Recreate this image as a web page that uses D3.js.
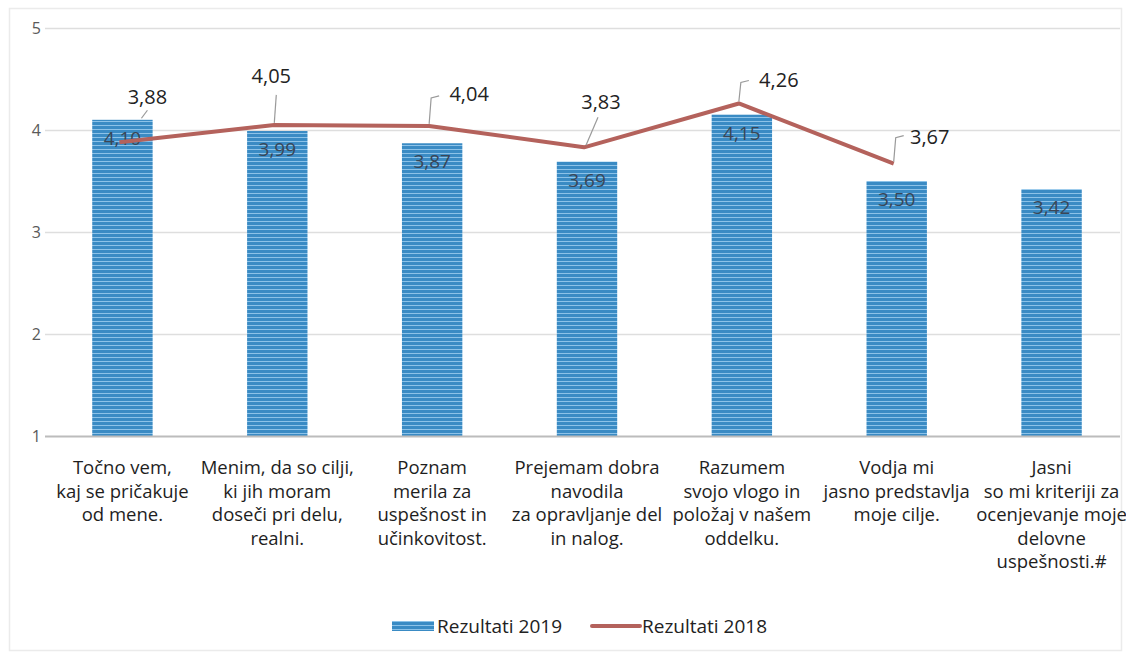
<!DOCTYPE html>
<html><head><meta charset="utf-8">
<script src="https://cdn.jsdelivr.net/npm/d3@7"></script>
<style>
html,body{margin:0;padding:0;background:#fff;}
svg{display:block;font-family:"Open Sans",Lato,sans-serif;}
</style></head>
<body>
<svg id="c" width="1126" height="654"></svg>
<script>
const categories = [
  ["Točno vem,", "kaj se pričakuje", "od mene."],
  ["Menim, da so cilji,", "ki jih moram", "doseči pri delu,", "realni."],
  ["Poznam", "merila za", "uspešnost in", "učinkovitost."],
  ["Prejemam dobra", "navodila", "za opravljanje del", "in nalog."],
  ["Razumem", "svojo vlogo in", "položaj v našem", "oddelku."],
  ["Vodja mi", "jasno predstavlja", "moje cilje."],
  ["Jasni", "so mi kriteriji za", "ocenjevanje moje", "delovne", "uspešnosti.#"]
];
const results2019 = [4.10, 3.99, 3.87, 3.69, 4.15, 3.50, 3.42];
const results2018 = [3.88, 4.05, 4.04, 3.83, 4.26, 3.67, null];
const yTicks = [1, 2, 3, 4, 5];
const seriesNames = ["Rezultati 2019", "Rezultati 2018"];

// label layout for the 2018 line labels (offsets from point)
const lineLabelLayout = [
  {dx: 28, dy: -45, leader: [[22,-24],[28,-32]]},
  {dx: -3, dy: -49, leader: [[0,-2],[2,-30]]},
  {dx: 40, dy: -32, leader: [[0,-2],[2,-28],[10,-30]]},
  {dx: 17, dy: -45, leader: [[2,-2],[14,-30]]},
  {dx: 40, dy: -23, leader: [[0,-2],[2,-21],[10,-23]]},
  {dx: 36, dy: -27, leader: [[0,-2],[2,-26],[10,-28]]}
];

const svg = d3.select("#c");
const fmt = v => d3.format(".2f")(v).replace(".", ",");

// chart border
svg.append("rect").attr("x", 9.5).attr("y", 8.5).attr("width", 1112).attr("height", 642)
  .attr("fill", "none").attr("stroke", "#ebebeb").attr("stroke-width", 1.5);

const x = d3.scaleBand().domain(d3.range(categories.length)).range([45, 1129]).paddingInner(0.61).paddingOuter(0.305);
const y = d3.scaleLinear().domain([1, 5]).range([436, 28]);

const defs = svg.append("defs");
const pat = defs.append("pattern").attr("id", "stripes").attr("patternUnits", "userSpaceOnUse")
  .attr("width", 8).attr("height", 4);
pat.append("rect").attr("width", 8).attr("height", 4).attr("fill", "#3a8bc4");
pat.append("rect").attr("y", 1).attr("width", 8).attr("height", 1).attr("fill", "#8cc2e8");

// gridlines
svg.append("g").selectAll("line").data(yTicks.slice(1)).join("line")
  .attr("x1", 45).attr("x2", 1120).attr("y1", d => y(d) + 0.5).attr("y2", d => y(d) + 0.5)
  .attr("stroke", "#dedede").attr("stroke-width", 1.5);

// y axis labels
svg.append("g").selectAll("text").data(yTicks).join("text")
  .attr("x", 41).attr("y", d => y(d)).attr("dy", "0.35em").attr("text-anchor", "end")
  .attr("font-size", 16).attr("fill", "#5a5a5a").text(d => d);

// bars
svg.append("g").selectAll("rect").data(results2019).join("rect")
  .attr("x", (d, i) => x(i)).attr("width", x.bandwidth())
  .attr("y", d => y(d)).attr("height", d => y(1) - y(d))
  .attr("fill", "url(#stripes)");

// x axis baseline
svg.append("line").attr("x1", 45).attr("x2", 1120).attr("y1", y(1) + 0.5).attr("y2", y(1) + 0.5)
  .attr("stroke", "#bcbcbc").attr("stroke-width", 2);

// bar labels
svg.append("g").selectAll("text").data(results2019).join("text")
  .attr("x", (d, i) => x(i) + x.bandwidth() / 2).attr("y", d => y(d) + 25)
  .attr("text-anchor", "middle").attr("font-size", 19).attr("fill", "#3a4656")
  .text(d => fmt(d));

// line 2018
const cx = i => x(i) + x.bandwidth() / 2;
const linePts = results2018.map((v, i) => ({v, i})).filter(d => d.v != null);
svg.append("path").datum(linePts)
  .attr("d", d3.line().x(d => cx(d.i) - 3).y(d => y(d.v)))
  .attr("fill", "none").attr("stroke", "#b4625c").attr("stroke-width", 4).attr("stroke-linejoin", "round");

// leaders and labels
const lg = svg.append("g");
linePts.forEach((d, k) => {
  const L = lineLabelLayout[k];
  const px = cx(d.i) - 3, py = y(d.v);
  lg.append("path")
    .attr("d", d3.line()(L.leader.map(p => [px + p[0], py + p[1]])))
    .attr("fill", "none").attr("stroke", "#9a9a9a").attr("stroke-width", 1.2);
  lg.append("text").attr("x", px + L.dx).attr("y", py + L.dy).attr("dy", "0.35em")
    .attr("text-anchor", "middle").attr("font-size", 20).attr("fill", "#222")
    .text(fmt(d.v));
});

// category labels
const cg = svg.append("g");
categories.forEach((lines, i) => {
  const t = cg.append("text").attr("text-anchor", "middle").attr("font-size", 18.5).attr("fill", "#1e1e1e");
  lines.forEach((ln, j) => {
    t.append("tspan").attr("x", cx(i)).attr("y", 474 + j * 23.6).text(ln);
  });
});

// legend
const leg = svg.append("g");
leg.append("rect").attr("x", 392).attr("y", 621).attr("width", 42).attr("height", 10).attr("fill", "url(#stripes)");
leg.append("text").attr("x", 437).attr("y", 626).attr("dy", "0.35em").attr("font-size", 19).attr("fill", "#222").text(seriesNames[0]);
leg.append("line").attr("x1", 592).attr("x2", 640).attr("y1", 626).attr("y2", 626)
  .attr("stroke", "#b4625c").attr("stroke-width", 4).attr("stroke-linecap", "round");
leg.append("text").attr("x", 642).attr("y", 626).attr("dy", "0.35em").attr("font-size", 19).attr("fill", "#222").text(seriesNames[1]);
</script>
</body></html>
